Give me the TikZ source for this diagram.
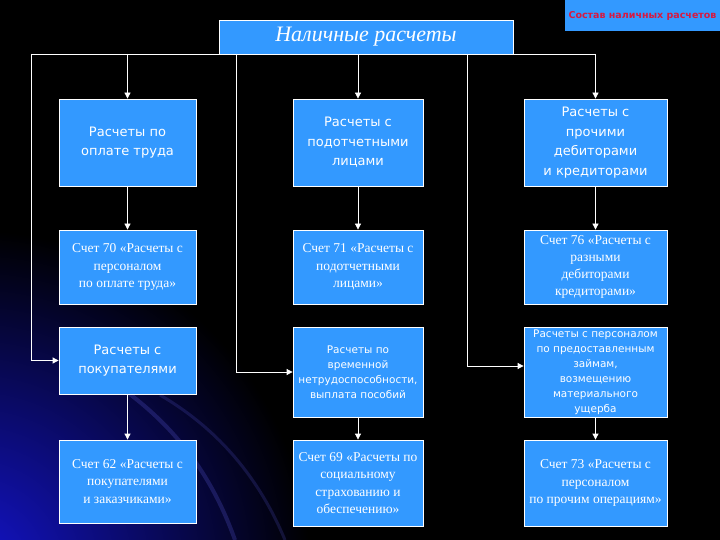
\documentclass[tikz,border=0pt]{standalone}
\usepackage{fontspec}
\setmainfont{Liberation Serif}
\newfontfamily\comic{DejaVu Sans}
\usetikzlibrary{arrows.meta}
\definecolor{boxblue}{RGB}{51,153,255}
\definecolor{glow}{RGB}{20,20,205}
\definecolor{redlabel}{RGB}{215,25,65}

\begin{document}
\begin{tikzpicture}[x=1pt,y=-1pt,
        box/.style={draw=white,fill=boxblue,text=white,align=center,inner sep=1pt,line width=0.8pt},
        sans/.style={box,font=\comic\fontsize{13}{19.5}\selectfont},
        small/.style={box,font=\comic\fontsize{10.5}{15}\selectfont},
        serif/.style={box,font=\fontsize{13.5}{17.3}\selectfont},
        arr/.style={draw=white,line width=0.8pt,-{Triangle[length=6pt,width=6pt]}}]
        \useasboundingbox (0,0) rectangle (720,540);
        \fill[black] (0,0) rectangle (720,540);
        \begin{scope}
            \clip (0,0) rectangle (720,540);
            \shade[inner color=glow,outer color=black] (-30,570) circle (340);
            \draw[glow!70!white,line width=4pt,opacity=0.25] (110,380) .. controls (170,420) and (210,470) .. (235,540);
            \draw[glow!70!white,line width=3pt,opacity=0.2] (160,395) .. controls (220,430) and (260,480) .. (285,540);
        \end{scope}

        \node[box,minimum width=294,minimum height=34,font=\itshape\fontsize{22}{26}\selectfont] (nal) at (366,37) {Наличные расчеты};
        \node[box,draw=none,minimum width=155,minimum height=31,text=redlabel,font=\comic\bfseries\fontsize{9.5}{10}\selectfont] (sostav) at (642.5,15.5) {Состав наличных расчетов};

        \node[sans,minimum width=137,minimum height=87] (r1c1) at (127.5,142.5) {Расчеты по\\оплате труда};
        \node[sans,minimum width=130,minimum height=87] (r1c2) at (358,142.5) {Расчеты с\\подотчетными\\лицами};
        \node[sans,minimum width=143,minimum height=87] (r1c3) at (595.5,142.5) {Расчеты с\\прочими\\дебиторами\\и кредиторами};

        \node[serif,minimum width=137,minimum height=74] (r2c1) at (127.5,267) {Счет 70 «Расчеты с\\персоналом\\по оплате труда»};
        \node[serif,minimum width=130,minimum height=74] (r2c2) at (358,267) {Счет 71 «Расчеты с\\подотчетными\\лицами»};
        \node[serif,minimum width=143,minimum height=74] (r2c3) at (595.5,267) {Счет 76 «Расчеты с\\разными\\дебиторами\\кредиторами»};

        \node[sans,minimum width=137,minimum height=67] (r3c1) at (127.5,360.5) {Расчеты с\\покупателями};
        \node[small,minimum width=130,minimum height=90] (r3c2) at (358,372) {Расчеты по\\временной\\нетрудоспособности,\\выплата пособий};
        \node[small,minimum width=143,minimum height=90] (r3c3) at (595.5,372) {Расчеты с персоналом\\по предоставленным\\займам,\\возмещению\\материального\\ущерба};

        \node[serif,minimum width=137,minimum height=83] (r4c1) at (127.5,481.5) {Счет 62 «Расчеты с\\покупателями\\и заказчиками»};
        \node[serif,minimum width=130,minimum height=86] (r4c2) at (358,483) {Счет 69 «Расчеты по\\социальному\\страхованию и\\обеспечению»};
        \node[serif,minimum width=143,minimum height=86] (r4c3) at (595.5,483) {Счет 73 «Расчеты с\\персоналом\\по прочим операциям»};

        \coordinate (busL) at (31,54);
        \coordinate (bus2) at (236,54);
        \coordinate (bus3) at (467,54);
        \draw[white,line width=0.8pt] (busL) -- (r1c3.north |- busL);
        \draw[arr] (busL) |- (r3c1.west);
        \draw[arr] (bus2) |- (r3c2.west);
        \draw[arr] (bus3) |- ([yshift=6pt]r3c3.west);
        \foreach \c in {1,2,3} {
            \draw[arr] (r1c\c.north |- busL) -- (r1c\c.north);
            \draw[arr] (r1c\c) -- (r2c\c);
            \draw[arr] (r3c\c) -- (r4c\c);
        }
    \end{tikzpicture}
\end{document}
